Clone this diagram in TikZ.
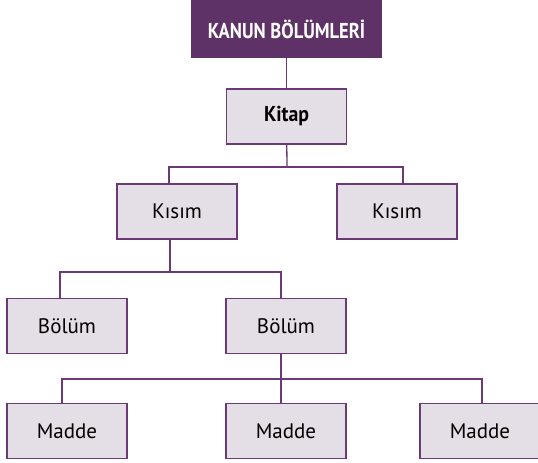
\documentclass[tikz,border=0pt]{standalone}
\usepackage{fontspec}
\setmainfont{PT Sans}
\newfontfamily\titlefont[FakeStretch=0.86]{PT Sans Bold}
\newfontfamily\headfont[FakeStretch=0.92]{PT Sans Bold}
\usepackage{xcolor}
\definecolor{kanundark}{HTML}{5F3267}
\definecolor{kanunline}{HTML}{6C3977}
\definecolor{kanunfill}{HTML}{E4DEE7}
\usepackage{tikz}

\begin{document}
\begin{tikzpicture}[
    x=1pt, y=-1pt,
    every node/.style={
        draw=kanunline,
        line width=1.3pt,
        fill=kanunfill,
        rectangle,
        minimum width=120pt,
        minimum height=55pt,
        inner sep=0pt,
        align=center,
        font=\fontsize{21}{24}\selectfont
    },
    link/.style={draw=kanunline, line width=1.3pt}
]
\useasboundingbox (0,0) rectangle (538,463);

% Nodes
\node[fill=kanundark, draw=kanundark, text=white, minimum width=189pt, minimum height=56pt,
      font=\titlefont\fontsize{21.5}{24}\selectfont] (title) at (286.5,29) {KANUN BÖLÜMLERİ};
\node[font=\headfont\fontsize{21.5}{24}\selectfont] (kitap) at (286.5,116.5) {Kitap};

\node (kisimL) at (177,211.5) {Kısım};
\node (kisimR) at (397,211.5) {Kısım};

\node (bolumL) at (67,326) {Bölüm};
\node (bolumR) at (286,326) {Bölüm};

\node (maddeL) at (67,431) {Madde};
\node (maddeM) at (286,431) {Madde};
\node (maddeR) at (480,431) {Madde};

% Connections
\coordinate (j1) at (287,167);
\coordinate (j2) at (170,272);
\coordinate (j3) at (281,379);

\draw[link] (title) -- (kitap);
\draw[link] (kitap) -- (j1);
\draw[link] ([xshift=-8pt]kisimL.north) |- (j1) -| ([xshift=6pt]kisimR.north);

\draw[link] ([xshift=-7pt]kisimL.south) -- (j2);
\draw[link] ([xshift=-7pt]bolumL.north) |- (j2) -| ([xshift=-5pt]bolumR.north);

\draw[link] ([xshift=-5pt]bolumR.south) -- (j3);
\draw[link] ([xshift=-5pt]maddeL.north) |- (j3) -| ([xshift=2pt]maddeR.north);
\draw[link] (j3) -- ([xshift=-5pt]maddeM.north);

\end{tikzpicture}
\end{document}
